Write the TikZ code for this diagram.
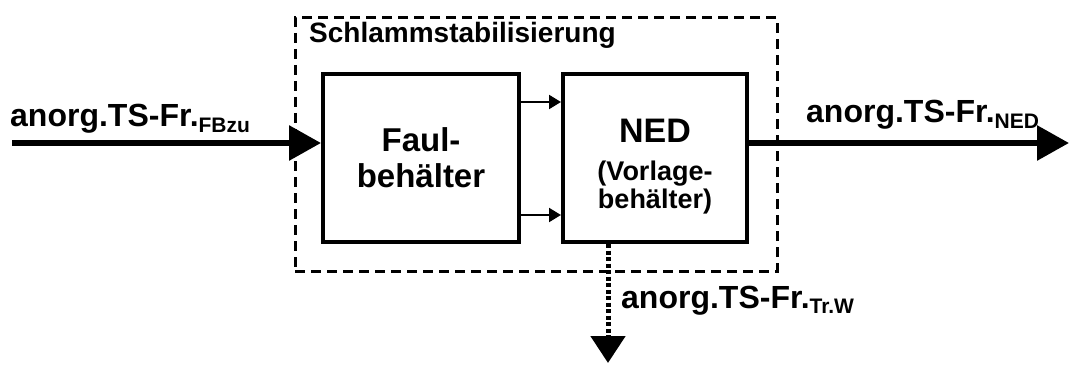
\documentclass[tikz,border=0pt]{standalone}
\usepackage{fontspec}
\setmainfont{Liberation Sans}
\usetikzlibrary{arrows.meta}

% lowered index after a flow name
\newcommand{\flowidx}[1]{\raisebox{-5pt}{\fontsize{21}{21}\selectfont #1}}

\tikzset{
    tank/.style={draw, line width=4pt, align=center, inner sep=0pt},
    group/.style={draw, line width=3pt, dash pattern=on 10pt off 6pt},
    flow/.style={line width=6pt, -{Triangle[length=32pt,width=34pt]}},
    link/.style={line width=2pt, -{Triangle[length=12pt,width=14pt]}},
    drain/.style={line width=5pt, dash pattern=on 4pt off 2.5pt, -{Triangle[length=27pt,width=34pt]}},
    lbl/.style={anchor=base west, inner sep=0pt, font=\bfseries\fontsize{32}{36}\selectfont},
}

\begin{document}
\begin{tikzpicture}[x=1pt, y=1pt]
    \useasboundingbox (0,0) rectangle (1072,365);

    % stabilisation stage
    \node[group, minimum width=482, minimum height=253] (stab) at (536,220.5) {};
    \node[anchor=base west, inner sep=0pt, font=\bfseries\fontsize{28}{32}\selectfont] (title) at (309,322) {Schlammstabilisierung};

    \node[tank, minimum width=196, minimum height=168, font=\bfseries\fontsize{33}{36}\selectfont] (faul) at (421,207) {Faul-\\behälter};
    \node[tank, minimum width=184, minimum height=168, font=\bfseries\fontsize{27}{28}\selectfont] (ned) at (655,207)
        {{\fontsize{34}{38}\selectfont NED}\rule{0pt}{40pt}\\[10pt](Vorlage-\\behälter)};

    \draw[link] ([yshift=56]faul.east) -- ([yshift=56]ned.west);
    \draw[link] ([yshift=-57]faul.east) -- ([yshift=-57]ned.west);

    % in- and outgoing flows
    \coordinate (in) at (12,222);
    \coordinate (out) at (1069,222);
    \coordinate (tw) at (608,2);

    \draw[flow] (in) -- (in -| faul.west);
    \draw[flow] (out -| ned.east) -- (out);
    \draw[drain] (ned.south -| tw) -- (tw);

    \node[lbl] (lin) at (10,238) {anorg.TS-Fr.\flowidx{FBzu}};
    \node[lbl] (lout) at (806,242) {anorg.TS-Fr.\flowidx{NED}};
    \node[lbl] (ltw) at (621,57) {anorg.TS-Fr.\flowidx{Tr.W}};
\end{tikzpicture}
\end{document}
